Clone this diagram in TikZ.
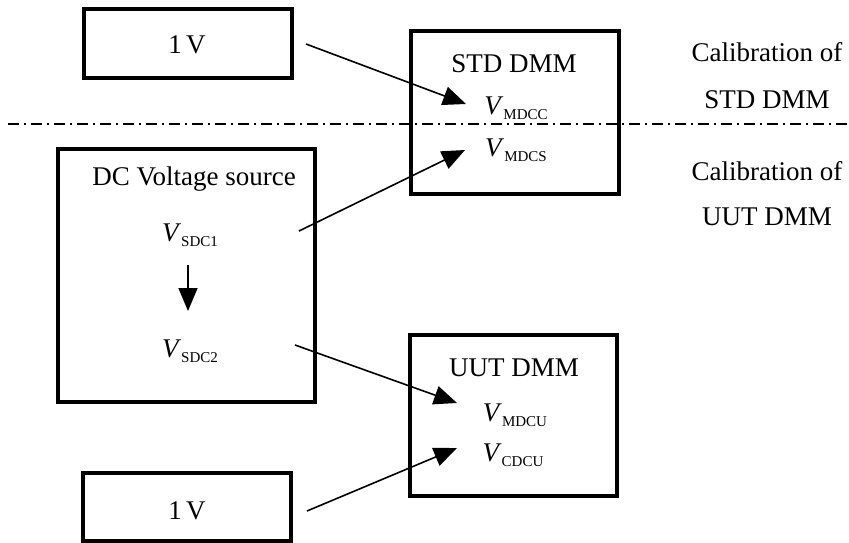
\documentclass[tikz,border=0pt]{standalone}
\usepackage{fontspec}
\setmainfont{Liberation Serif}
\usetikzlibrary{arrows.meta}
\newcommand\VV[1]{\textit{V}\raisebox{-0.22em}{\fontsize{15}{17}\selectfont #1}}
\begin{document}
\begin{tikzpicture}[x=1pt,y=-1pt,
  box/.style={draw, line width=3.5pt, inner sep=0pt},
  lbl/.style={inner sep=0pt, anchor=base, font=\fontsize{27}{32}\selectfont},
  conn/.style={line width=1.6pt, -{Triangle[length=23pt,width=19pt]}},
  sep/.style={line width=1.5pt, dash pattern=on 11pt off 5pt on 2pt off 5pt}]
\useasboundingbox (0,0) rectangle (849,543);
% boxes
\node[box, minimum width=208pt, minimum height=69pt] (ref1) at (188,43.5) {};
\node[box, minimum width=208pt, minimum height=163pt] (std) at (515,112.5) {};
\node[box, minimum width=257pt, minimum height=253pt] (src) at (186.5,275.5) {};
\node[box, minimum width=207pt, minimum height=161pt] (uut) at (513.5,415.5) {};
\node[box, minimum width=208pt, minimum height=68pt] (ref2) at (187,507) {};
% separator
\coordinate (sepL) at (8,124);
\coordinate (sepR) at (849,124);
\draw[sep] (sepL) -- (sepR);
% texts
\node[lbl] (t1v) at (187,54) {1\,V};
\node[lbl] (tstd) at (514,73) {STD DMM};
\node[lbl] (tmdcc) at (516,114) {\VV{MDCC}};
\node[lbl] (tmdcs) at (516,156) {\VV{MDCS}};
\node[lbl] (tdc) at (194,185) {DC Voltage source};
\node[lbl] (tsdc1) at (190,241) {\VV{SDC1}};
\node[lbl] (tsdc2) at (190,357) {\VV{SDC2}};
\node[lbl] (tuut) at (514,376) {UUT DMM};
\node[lbl] (tmdcu) at (515,421) {\VV{MDCU}};
\node[lbl] (tcdcu) at (513,461) {\VV{CDCU}};
\node[lbl] (t1v2) at (187,519) {1\,V};
\node[lbl] (c1) at (767,62) {Calibration of};
\node[lbl] (c2) at (767,109) {STD DMM};
\node[lbl] (c3) at (767,180) {Calibration of};
\node[lbl] (c4) at (767,225) {UUT DMM};
% connector end points
\coordinate (a1s) at (306,44);
\coordinate (a1e) at (466,104);
\coordinate (a2s) at (299,231);
\coordinate (a2e) at (465,150);
\coordinate (a3s) at (295,345);
\coordinate (a3e) at (457,403);
\coordinate (a4s) at (307,511);
\coordinate (a4e) at (457,448);
\coordinate (d1) at (188,265);
\coordinate (d2) at (188,311);
\draw[conn] (a1s) -- (a1e);
\draw[conn] (a2s) -- (a2e);
\draw[conn] (a3s) -- (a3e);
\draw[conn] (a4s) -- (a4e);
\draw[conn] (d1) -- (d2);
\end{tikzpicture}
\end{document}
